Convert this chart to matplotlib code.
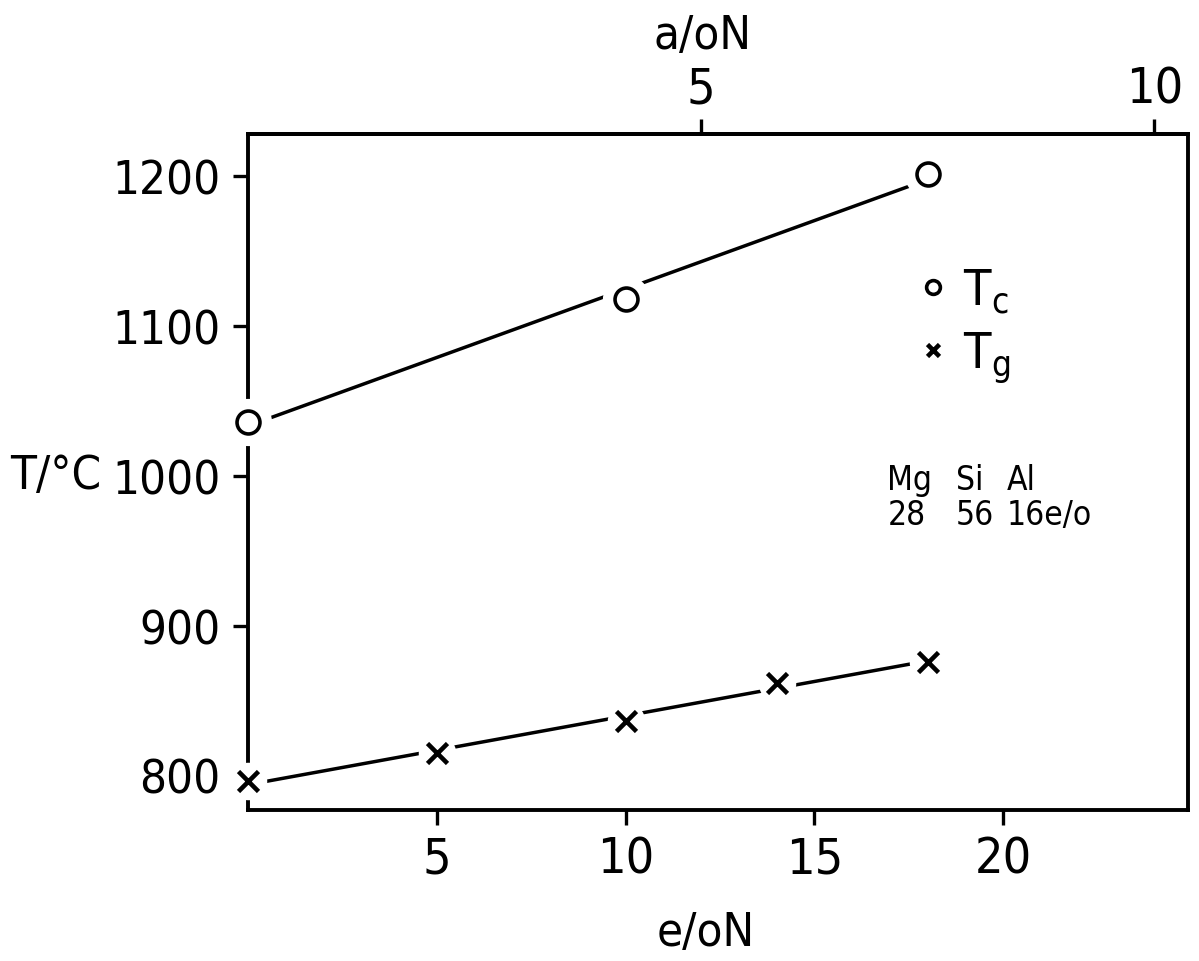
import numpy as np
import matplotlib
matplotlib.use("Agg")
import matplotlib.pyplot as plt
from matplotlib import font_manager

# --- data -------------------------------------------------------------
e_tc = [0, 10, 18]                    # e/o N
t_c = [1036, 1118, 1201]              # crystallisation temperature, degC
e_tg = [0, 5, 10, 14, 18]             # e/o N
t_g = [796, 815, 836, 862, 876]       # glass transition temperature, degC

y_ticks = [800, 900, 1000, 1100, 1200]
x_ticks = [5, 10, 15, 20]
top_ticks = [5, 10]
e_per_a = 2.4                         # e/o N per a/o N

elements = ["Mg", "Si", "Al"]
amounts = ["28", "56", "16e/o"]

# --- font -------------------------------------------------------------
available = {f.name for f in font_manager.fontManager.ttflist}
if "Liberation Sans Narrow" in available:
    plt.rcParams["font.family"] = ["Liberation Sans Narrow", "DejaVu Sans"]
    xsize, ysize, lab, small = 40, 40, 36, 24
else:
    plt.rcParams["font.family"] = ["DejaVu Sans"]
    plt.rcParams["font.stretch"] = "condensed"
    xsize, ysize, lab, small = 36, 34, 34, 24
plt.rcParams["mathtext.default"] = "regular"

fig = plt.figure(figsize=(11.99, 9.62), dpi=100)
ax = fig.add_axes([0.207, 0.157, 0.784, 0.703])

lw_spine = 2.8
for s in ax.spines.values():
    s.set_linewidth(lw_spine)

# least-squares lines through each series
for xs, ys in ((e_tc, t_c), (e_tg, t_g)):
    k, b = np.polyfit(xs, ys, 1)
    xx = np.array([min(xs), max(xs)])
    ax.plot(xx, k * xx + b, color="black", lw=2.5, zorder=2,
            solid_capstyle="round")

# white halos open a gap in the lines and the spine around each marker
ax.plot(e_tc, t_c, ls="none", marker="o", ms=34, mfc="white", mec="none",
        zorder=3, clip_on=False)
ax.plot(e_tg, t_g, ls="none", marker="o", ms=27, mfc="white", mec="none",
        zorder=3, clip_on=False)
h_c, = ax.plot(e_tc, t_c, ls="none", marker="o", ms=16.5, mfc="white",
               mec="black", mew=2.6, zorder=4, clip_on=False,
               label="$T_c$")
h_g, = ax.plot(e_tg, t_g, ls="none", marker="x", ms=14, mec="black",
               mew=3.3, zorder=4, clip_on=False, label="$T_g$")

ax.set_xlim(0, 24.9)
ax.set_ylim(777, 1228)
ax.set_xticks(x_ticks)
ax.set_yticks(y_ticks)
ax.tick_params(direction="out", length=11, width=2.4, pad=7)
ax.tick_params(axis="x", labelsize=xsize)
ax.tick_params(axis="y", labelsize=ysize, pad=9)

ax.set_xlabel("e/oN", fontsize=lab, va="top")
ax.xaxis.set_label_coords(0.487, -0.148)
ax.set_ylabel("T/°C", fontsize=ysize, rotation=0, ha="left", va="center")
ax.yaxis.set_label_coords(-0.253, 0.494)

top = ax.secondary_xaxis("top", functions=(lambda e: e / e_per_a,
                                           lambda a: a * e_per_a))
top.set_xticks(top_ticks)
top.tick_params(direction="out", length=11, width=2.4, labelsize=xsize,
                pad=4)
top.spines["top"].set_linewidth(lw_spine)
top.set_xlabel("a/oN", fontsize=lab, labelpad=12)
top.xaxis.label.set_x(0.483)

ax.legend(handles=[h_c, h_g], loc="center left",
          bbox_to_anchor=(0.686, 0.716), frameon=False, markerscale=0.6,
          fontsize=xsize, handlelength=0.6, handletextpad=0.3,
          labelspacing=0.3, borderpad=0)

col_x = [0.680, 0.753, 0.807]
for x, el, am in zip(col_x, elements, amounts):
    ax.text(x, 0.475, el, transform=ax.transAxes, fontsize=small,
            ha="left", va="baseline")
    ax.text(x, 0.423, am, transform=ax.transAxes, fontsize=small,
            ha="left", va="baseline")

fig.savefig("out.png", dpi=100, facecolor="white")
